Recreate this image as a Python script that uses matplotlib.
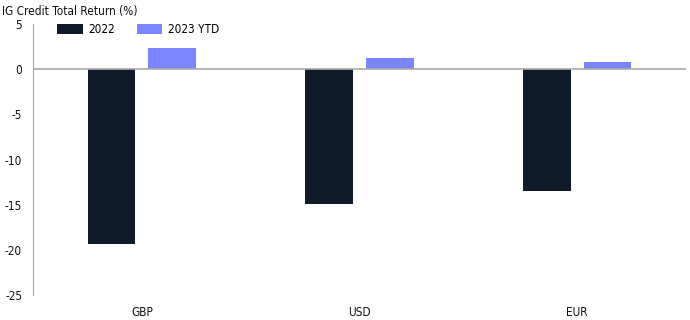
import matplotlib
matplotlib.use("Agg")
import matplotlib.pyplot as plt
from matplotlib import font_manager
import numpy as np

categories = ["GBP", "USD", "EUR"]
series_names = ["2022", "2023 YTD"]
values_2022 = [-19.4, -14.9, -13.5]
values_2023 = [2.3, 1.2, 0.75]
yticks = [5, 0, -5, -10, -15, -20, -25]
title = "IG Credit Total Return (%)"

fonts = {(f.name, f.stretch) for f in font_manager.fontManager.ttflist}
names = {f[0] for f in fonts}
stretch = "normal"
if "Liberation Sans Narrow" in names:
    fam = "Liberation Sans Narrow"
elif any(n == "DejaVu Sans" and s in ("condensed", "semi-condensed", 87, 75) for n, s in fonts):
    fam = "DejaVu Sans"
    stretch = "condensed"
else:
    fam = "Roboto"
plt.rcParams['font.family'] = [fam, 'DejaVu Sans']
plt.rcParams['font.stretch'] = stretch
plt.rcParams['axes.unicode_minus'] = False

fig = plt.figure(figsize=(6.9, 3.2), dpi=100)
ax = fig.add_axes([0.048, 0.078, 0.946, 0.847])

x = np.arange(len(categories))
w = 0.22
off = 0.14
ax.bar(x - off, values_2022, width=w, color="#0F1A2A", label=series_names[0], zorder=2)
ax.bar(x + off, values_2023, width=w, color="#7A85FF", label=series_names[1], zorder=2)
ax.axhline(0, color="#AAAAAA", lw=1.2, zorder=3)

ax.set_xlim(-0.5, 2.5)
ax.set_ylim(-25, 5)
ax.set_yticks(yticks)
ax.set_yticklabels([str(t) for t in yticks])
ax.set_xticks(x)
ax.set_xticklabels(categories)
ax.tick_params(axis='both', length=0, labelsize=8.5, colors="#111111")
ax.tick_params(axis='y', pad=8)
ax.tick_params(axis='x', pad=8)
for s in ["top", "right", "bottom"]:
    ax.spines[s].set_visible(False)
ax.spines["left"].set_color("#AAAAAA")

fig.text(0.003, 0.965, title, fontsize=8.5, ha="left", va="center", color="#111111")

ax.legend(loc="center left", bbox_to_anchor=(0.029, 0.978), ncol=2, frameon=False,
          handlelength=2.2, handleheight=0.9, columnspacing=1.8, handletextpad=0.5,
          fontsize=8.5, borderaxespad=0)

fig.savefig("out.png", dpi=100)
